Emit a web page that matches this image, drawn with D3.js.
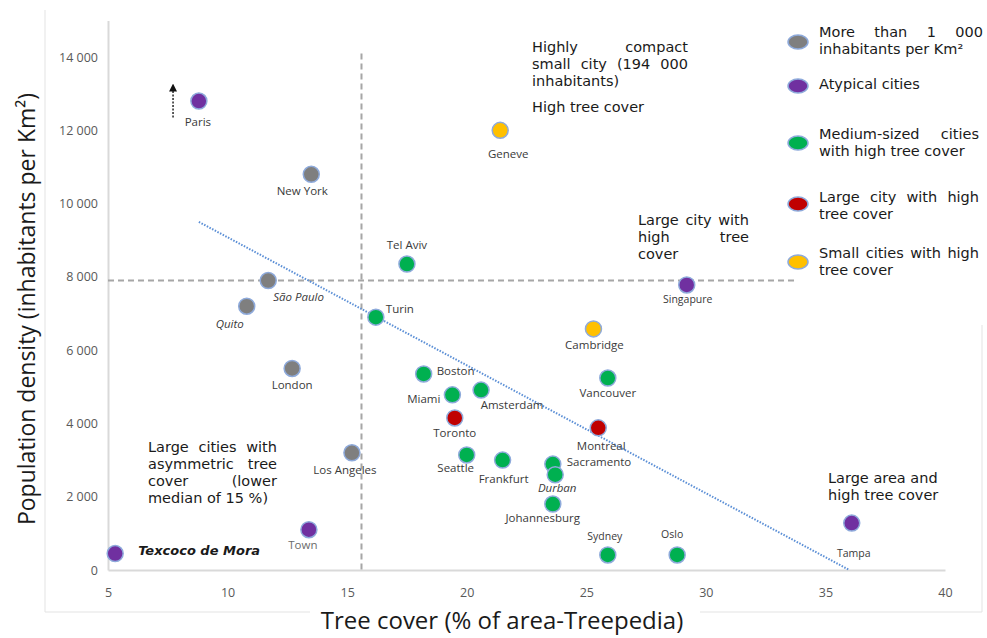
<!DOCTYPE html>
<html>
<head>
<meta charset="utf-8">
<script src="https://cdn.jsdelivr.net/npm/d3@7"></script>
<style>
  body { margin: 0; background: #fff; }
  svg { display: block; }
</style>
</head>
<body>
<svg id="chart" width="987" height="638"></svg>
<script>
// ---- data ----
const cities = ["Paris", "New York", "São Paulo", "Quito", "London", "Los Angeles", "Town",
  "Texcoco de Mora", "Tel Aviv", "Turin", "Geneve", "Boston", "Miami", "Amsterdam", "Toronto",
  "Seattle", "Frankfurt", "Sacramento", "Durban", "Johannesburg", "Sydney", "Cambridge",
  "Vancouver", "Montreal", "Singapure", "Oslo", "Tampa"];
const treeCover = [8.8, 13.5, 11.7, 10.8, 12.7, 15.2, 13.4,
  5.3, 17.5, 16.2, 21.4, 18.2, 19.4, 20.6, 19.5,
  20.0, 21.5, 23.6, 23.7, 23.6, 25.9, 25.3,
  25.9, 25.5, 29.2, 28.8, 36.1];
const density = [12800, 10800, 7900, 7200, 5500, 3200, 1100,
  450, 8350, 6900, 12000, 5350, 4780, 4910, 4150,
  3140, 3000, 2890, 2600, 1800, 410, 6580,
  5240, 3880, 7780, 410, 1280];
const group = ["atypical", "dense", "dense", "dense", "dense", "dense", "atypical",
  "atypical", "medium", "medium", "small", "medium", "medium", "medium", "large",
  "medium", "medium", "medium", "medium", "medium", "medium", "small",
  "medium", "large", "atypical", "medium", "atypical"];

const groupKeys = ["dense", "atypical", "medium", "large", "small"];
const groupColors = ["#7f7f7f", "#7030a0", "#00b050", "#c00000", "#ffc000"];
const legendLabels = [
  ["More than 1 000", "inhabitants per Km²"],
  ["Atypical cities"],
  ["Medium-sized cities", "with high tree cover"],
  ["Large city with high", "tree cover"],
  ["Small cities with high", "tree cover"]
];

const xTicks = [5, 10, 15, 20, 25, 30, 35, 40];
const yTicks = [0, 2000, 4000, 6000, 8000, 10000, 12000, 14000];
const medianCover = 15.6;     // vertical dashed line
const densityCut = 7900;      // horizontal dashed line
const trendLine = [[8.8, 9500], [36, 0]];

// label placement (pixels relative to the point)
const labelPos = {
  "Paris": [-1, 25, "middle"], "New York": [-9, 21, "middle"], "São Paulo": [5, 20, "start"],
  "Quito": [-17, 22, "middle"], "London": [0, 21, "middle"], "Los Angeles": [-7, 21, "middle"],
  "Town": [-6, 19, "middle"], "Texcoco de Mora": [23, 1, "start"], "Tel Aviv": [0, -15, "middle"],
  "Turin": [10, -4, "start"], "Geneve": [8, 28, "middle"], "Boston": [13, 1, "start"],
  "Miami": [-12, 8, "end"], "Amsterdam": [31, 19, "middle"], "Toronto": [0, 19, "middle"],
  "Seattle": [-11, 17, "middle"], "Frankfurt": [1, 23, "middle"], "Sacramento": [14, 2, "start"],
  "Durban": [2, 17, "middle"], "Johannesburg": [-10, 18, "middle"], "Sydney": [-3, -15, "middle"],
  "Cambridge": [1, 20, "middle"], "Vancouver": [0, 19, "middle"], "Montreal": [3, 22, "middle"],
  "Singapure": [1, 18, "middle"], "Oslo": [-5, -17, "middle"], "Tampa": [2, 34, "middle"]
};
const italicLabels = ["São Paulo", "Quito", "Durban"];
const smallLabels = ["Sydney", "Singapure", "Oslo", "Tampa"];

const points = cities.map((c, i) => ({ city: c, x: treeCover[i], y: density[i], g: group[i] }));

// ---- setup ----
const svg = d3.select("#chart");
const color = d3.scaleOrdinal().domain(groupKeys).range(groupColors);

const x = d3.scaleLinear().domain([5, 40]).range([108, 945]);
const y = d3.scaleLinear().domain([0, 15000]).range([570, 20.4]);

const labelFont = "'Open Sans', 'Noto Sans', sans-serif";
const noteFont = "'DejaVu Sans', Verdana, sans-serif";

// faint outer frame of the original figure
const frame = d3.path();
frame.moveTo(45, 10); frame.lineTo(45, 612); frame.lineTo(310, 612);
frame.moveTo(700, 612); frame.lineTo(982, 612); frame.lineTo(982, 325);
svg.append("path").attr("d", frame.toString())
  .attr("fill", "none").attr("stroke", "#e3e3e3").attr("stroke-width", 1);

// axes
const xAxis = svg.append("g")
  .attr("transform", `translate(0, ${y(0)})`)
  .call(d3.axisBottom(x).tickValues(xTicks).tickSize(0).tickPadding(18).tickFormat(d3.format("d")));
const yAxis = svg.append("g")
  .attr("transform", `translate(${x(5)}, 0)`)
  .call(d3.axisLeft(y).tickValues(yTicks).tickSize(0).tickPadding(10)
    .tickFormat(d => d3.format(",")(d).replace(",", " ")));
[xAxis, yAxis].forEach(a => {
  a.select(".domain").attr("stroke", "#d9d9d9").attr("stroke-width", 2);
  a.selectAll(".tick text")
    .attr("fill", "#595959")
    .style("font-family", labelFont)
    .style("font-size", "12.5px");
});

// axis titles
svg.append("text")
  .attr("x", 502).attr("y", 629)
  .attr("text-anchor", "middle")
  .style("font-family", labelFont).style("font-size", "24px").attr("fill", "#1a1a1a")
  .text("Tree cover (% of area-Treepedia)");
svg.append("text")
  .attr("transform", "translate(35, 309) rotate(-90)")
  .attr("text-anchor", "middle")
  .style("font-family", labelFont).style("font-size", "23px").attr("fill", "#1a1a1a")
  .text("Population density (inhabitants per Km²)");

// dashed reference lines
svg.append("line")
  .attr("x1", x(medianCover)).attr("x2", x(medianCover))
  .attr("y1", y(14100)).attr("y2", y(0))
  .attr("stroke", "#a6a6a6").attr("stroke-width", 2).attr("stroke-dasharray", "6,4");
svg.append("line")
  .attr("x1", x(5)).attr("x2", x(33.8))
  .attr("y1", y(densityCut)).attr("y2", y(densityCut))
  .attr("stroke", "#a6a6a6").attr("stroke-width", 2).attr("stroke-dasharray", "6,4");

// dotted trend line
svg.append("path")
  .attr("d", d3.line().x(d => x(d[0])).y(d => y(d[1]))(trendLine))
  .attr("fill", "none").attr("stroke", "#5b8fd6").attr("stroke-width", 2)
  .attr("stroke-dasharray", "1.5,1.5");

// arrow above Paris
svg.append("defs").append("marker")
  .attr("id", "head").attr("viewBox", "0 0 10 10")
  .attr("refX", 2).attr("refY", 5).attr("markerWidth", 8).attr("markerHeight", 8)
  .attr("markerUnits", "userSpaceOnUse").attr("orient", "auto")
  .append("path").attr("d", "M0,0 L10,5 L0,10 Z").attr("fill", "#111");
svg.append("line")
  .attr("x1", x(7.72)).attr("x2", x(7.72))
  .attr("y1", y(12350)).attr("y2", y(13100))
  .attr("stroke", "#333").attr("stroke-width", 1.6).attr("stroke-dasharray", "2,1.5")
  .attr("marker-end", "url(#head)");

// points
svg.append("g").selectAll("circle")
  .data(points)
  .join("circle")
  .attr("cx", d => x(d.x)).attr("cy", d => y(d.y))
  .attr("r", 8)
  .attr("fill", d => color(d.g))
  .attr("stroke", "#8eaadb").attr("stroke-width", 1.5);

// point labels
svg.append("g").selectAll("text")
  .data(points)
  .join("text")
  .attr("x", d => x(d.x) + labelPos[d.city][0])
  .attr("y", d => y(d.y) + labelPos[d.city][1])
  .attr("text-anchor", d => labelPos[d.city][2])
  .style("font-family", d => d.city === "Texcoco de Mora" ? noteFont : labelFont)
  .style("font-size", d => d.city === "Texcoco de Mora" ? "13px" : smallLabels.includes(d.city) ? "10.5px" : "11.5px")
  .style("font-style", d => italicLabels.includes(d.city) || d.city === "Texcoco de Mora" ? "italic" : "normal")
  .style("font-weight", d => d.city === "Texcoco de Mora" ? "bold" : "normal")
  .attr("fill", d => d.city === "Texcoco de Mora" ? "#1a1a1a" : d.city === "Town" ? "#6b6b6b" : "#3a3a3a")
  .text(d => d.city);

// justified text blocks (as in the original word-processor boxes)
const notes = svg.append("g")
  .style("font-family", noteFont).style("font-size", "14.5px").attr("fill", "#1a1a1a");

function textBlock(left, top, width, lines, lh) {
  lines.forEach((line, i) => {
    const words = line.split(" ");
    const yy = top + i * lh;
    if (i === lines.length - 1 || words.length < 2) {
      notes.append("text").attr("x", left).attr("y", yy).text(line);
      return;
    }
    const nodes = words.map(w => notes.append("text").attr("y", yy).text(w));
    const widths = nodes.map(n => n.node().getComputedTextLength());
    const gap = (width - d3.sum(widths)) / (words.length - 1);
    let cx = left;
    nodes.forEach((n, k) => { n.attr("x", cx); cx += widths[k] + gap; });
  });
}

textBlock(532, 52, 156, ["Highly compact", "small city (194 000", "inhabitants)"], 17);
textBlock(532, 112, 156, ["High tree cover"], 17);
textBlock(638, 225, 111, ["Large city with", "high tree", "cover"], 17);
textBlock(148, 452, 129, ["Large cities with", "asymmetric tree", "cover (lower", "median of 15 %)"], 17);
textBlock(828, 483, 130, ["Large area and"], 17);
textBlock(828, 500, 130, ["high tree cover"], 17);

// legend
const legendY = [42, 86, 143, 204, 262];
const legendTextY = [37, 89, 139, 202, 258];
groupKeys.forEach((k, i) => {
  svg.append("ellipse")
    .attr("cx", 798).attr("cy", legendY[i]).attr("rx", 10).attr("ry", 7)
    .attr("fill", color(k)).attr("stroke", "#8eaadb").attr("stroke-width", 1.5);
  textBlock(819, legendTextY[i], i === 0 ? 164 : 160, legendLabels[i], 16.5);
});
</script>
</body>
</html>
